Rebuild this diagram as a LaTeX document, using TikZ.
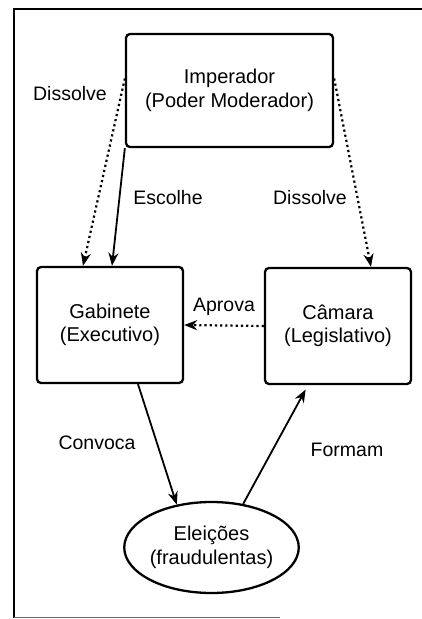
\documentclass[tikz,border=0pt]{standalone}
\usepackage{fontspec}
\setmainfont{Liberation Sans}
\usetikzlibrary{shapes.geometric,arrows.meta}
\tikzset{
  poder/.style={draw, line width=2.3pt, rounded corners=4pt, align=center,
    inner sep=0pt},
  povo/.style={draw, ellipse, line width=2.3pt, align=center, inner sep=0pt,
    minimum width=173pt, minimum height=91pt},
  acao/.style={line width=1.8pt, -{Stealth[length=13pt,width=10pt]}},
  acaofraca/.style={acao, line width=2.2pt, dash pattern=on 2.2pt off 3pt},
  verbo/.style={inner sep=0pt, font=\fontsize{19.5}{22}\selectfont},
}

\begin{document}
\begin{tikzpicture}[x=1pt,y=-1pt,
    font=\fontsize{20}{23.5}\selectfont]
  \useasboundingbox (0,0) rectangle (422,619);
  % moldura
  \draw[line width=2.2pt] (422,9) -- (14,9) -- (14,617.5);
  \draw[line width=1.2pt, black!60] (14,617.5) -- (280,617.5);

  \node[poder, minimum width=207pt, minimum height=113pt] (imperador)
    at (229.5,90.5) {Imperador\\(Poder Moderador)};
  \node[poder, minimum width=146pt, minimum height=116pt] (gabinete)
    at (110,325) {Gabinete\\(Executivo)};
  \node[poder, minimum width=146pt, minimum height=116pt] (camara)
    at (338,326) {Câmara\\(Legislativo)};
  \node[povo] (eleicoes) at (211.5,547.5) {Eleições\\(fraudulentas)};

  \draw[acaofraca] ([yshift=12pt]imperador.west) -- ([xshift=-27pt]gabinete.north);
  \draw[acao] (imperador.south west) -- ([xshift=2pt]gabinete.north);
  \draw[acaofraca] ([yshift=12pt]imperador.east) -- ([xshift=33pt]camara.north);
  \draw[acaofraca] (camara.west) -- (gabinete.east);
  \draw[acao] ([xshift=28pt]gabinete.south) -- (eleicoes.129);
  \draw[acao, shorten >=5pt] (eleicoes.54) -- ([xshift=-30pt]camara.south);

  \node[verbo] (dissolveE) at (70,94) {Dissolve};
  \node[verbo] (escolhe) at (168,198) {Escolhe};
  \node[verbo] (dissolveD) at (310,198) {Dissolve};
  \node[verbo] (aprova) at (224,307) {Aprova};
  \node[verbo] (convoca) at (97,443) {Convoca};
  \node[verbo] (formam) at (347,450) {Formam};
\end{tikzpicture}
\end{document}
